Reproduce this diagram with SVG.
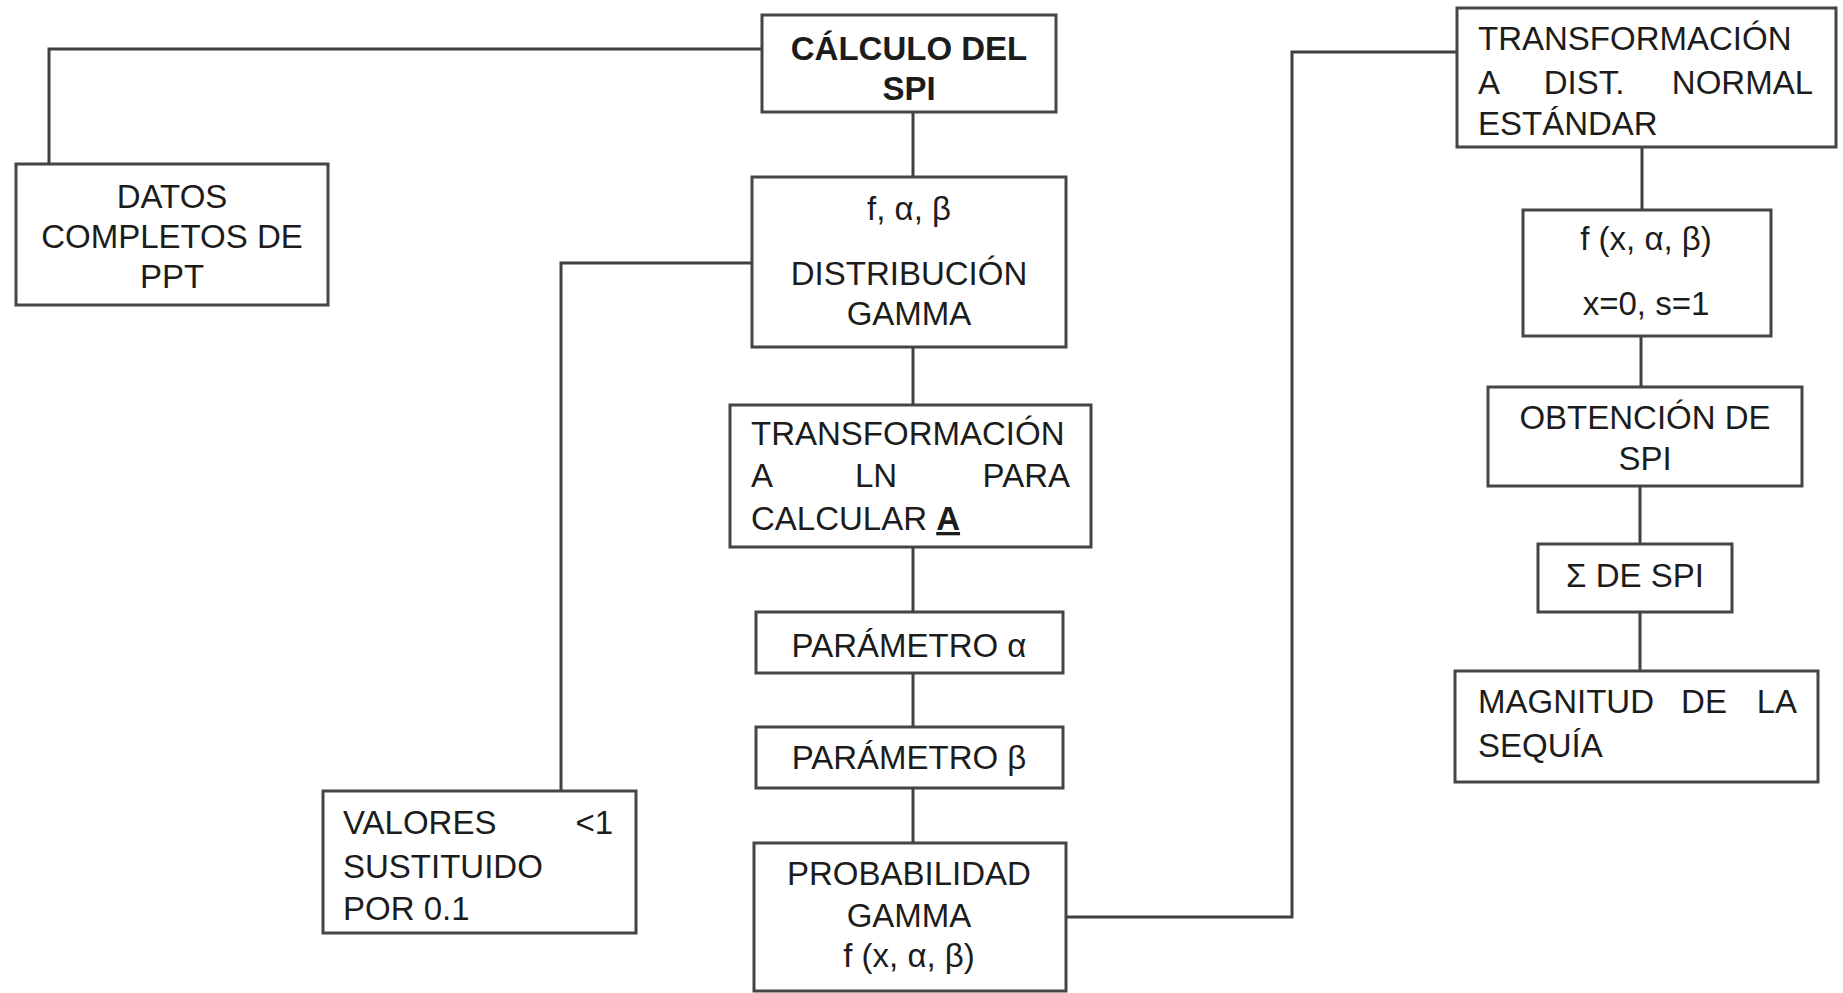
<svg xmlns="http://www.w3.org/2000/svg" width="1843" height="993" viewBox="0 0 1843 993">
<style>
.box{fill:#ffffff;stroke:#454545;stroke-width:3}
.con{fill:none;stroke:#404040;stroke-width:3}
text{font-family:"Liberation Sans",Arial,sans-serif;font-size:33px;fill:#1c1c1c}
.c{text-anchor:middle}
.e{text-anchor:end}
.b{font-weight:bold}
</style>
<rect width="1843" height="993" fill="#ffffff"/>
<g id="connectors">
<path class="con" d="M49 164 V49 H762"/>
<path class="con" d="M913 112 V177"/>
<path class="con" d="M752 263 H561 V791"/>
<path class="con" d="M913 347 V405"/>
<path class="con" d="M913 547 V612"/>
<path class="con" d="M913 673 V727"/>
<path class="con" d="M913 788 V843"/>
<path class="con" d="M1066 917 H1292 V52 H1457"/>
<path class="con" d="M1642 147 V210"/>
<path class="con" d="M1641 336 V387"/>
<path class="con" d="M1640 486 V544"/>
<path class="con" d="M1640 612 V671"/>
</g>
<g id="datos">
<rect class="box" x="16" y="164" width="312" height="141"/>
<text class="c" x="172" y="208">DATOS</text>
<text class="c" x="172" y="248">COMPLETOS DE</text>
<text class="c" x="172" y="288">PPT</text>
</g>
<g id="calculo">
<rect class="box" x="762" y="15" width="294" height="97"/>
<text class="c b" x="909" y="60">CÁLCULO DEL</text>
<text class="c b" x="909" y="100">SPI</text>
</g>
<g id="distribucion">
<rect class="box" x="752" y="177" width="314" height="170"/>
<text class="c" x="909" y="220">f, α, β</text>
<text class="c" x="909" y="285">DISTRIBUCIÓN</text>
<text class="c" x="909" y="325">GAMMA</text>
</g>
<g id="transln">
<rect class="box" x="730" y="405" width="361" height="142"/>
<text x="751" y="445">TRANSFORMACIÓN</text>
<text x="751" y="487">A</text>
<text class="c" x="876" y="487">LN</text>
<text class="e" x="1070" y="487">PARA</text>
<text x="751" y="530">CALCULAR <tspan class="b" text-decoration="underline">A</tspan></text>
</g>
<g id="param-alfa">
<rect class="box" x="756" y="612" width="307" height="61"/>
<text class="c" x="909" y="657">PARÁMETRO α</text>
</g>
<g id="param-beta">
<rect class="box" x="756" y="727" width="307" height="61"/>
<text class="c" x="909" y="769">PARÁMETRO β</text>
</g>
<g id="probabilidad">
<rect class="box" x="754" y="843" width="312" height="148"/>
<text class="c" x="909" y="885">PROBABILIDAD</text>
<text class="c" x="909" y="927">GAMMA</text>
<text class="c" x="909" y="967">f (x, α, β)</text>
</g>
<g id="valores">
<rect class="box" x="323" y="791" width="313" height="142"/>
<text x="343" y="834">VALORES</text>
<text class="e" x="613" y="834">&lt;1</text>
<text x="343" y="878">SUSTITUIDO</text>
<text x="343" y="920">POR 0.1</text>
</g>
<g id="transnormal">
<rect class="box" x="1457" y="8" width="379" height="139"/>
<text x="1478" y="50">TRANSFORMACIÓN</text>
<text x="1478" y="94">A</text>
<text class="c" x="1584" y="94">DIST.</text>
<text class="e" x="1813" y="94">NORMAL</text>
<text x="1478" y="135">ESTÁNDAR</text>
</g>
<g id="fx">
<rect class="box" x="1523" y="210" width="248" height="126"/>
<text class="c" x="1646" y="250">f (x, α, β)</text>
<text class="c" x="1646" y="315">x=0, s=1</text>
</g>
<g id="obtencion">
<rect class="box" x="1488" y="387" width="314" height="99"/>
<text class="c" x="1645" y="429">OBTENCIÓN DE</text>
<text class="c" x="1645" y="470">SPI</text>
</g>
<g id="suma">
<rect class="box" x="1538" y="544" width="194" height="68"/>
<text class="c" x="1635" y="587">Σ DE SPI</text>
</g>
<g id="magnitud">
<rect class="box" x="1455" y="671" width="363" height="111"/>
<text x="1478" y="713">MAGNITUD</text>
<text class="c" x="1704" y="713">DE</text>
<text class="e" x="1797" y="713">LA</text>
<text x="1478" y="757">SEQUÍA</text>
</g>
</svg>
